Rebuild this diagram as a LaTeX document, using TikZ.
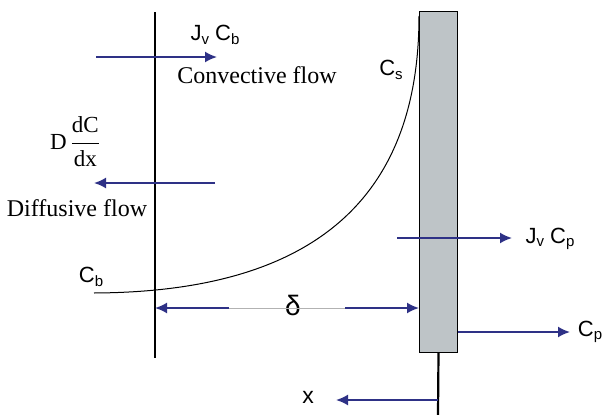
\documentclass[tikz,border=0pt]{standalone}
\usepackage{amsmath}
\usepackage{fontspec}
\setmainfont{Liberation Serif}
\newfontfamily\arialfont{Liberation Sans}
\usetikzlibrary{arrows.meta,positioning}
\definecolor{flowblue}{HTML}{2E3186}
\definecolor{membgray}{HTML}{BEC4C7}
\newcommand{\lo}[1]{\raisebox{-0.3ex}{\fontsize{15}{15}\selectfont #1}}

\begin{document}
\begin{tikzpicture}[x=1pt,y=-1pt,>={Latex[length=12pt,width=11pt]},
  flow/.style={->,flowblue,line width=1.8pt},
  sanslbl/.style={inner sep=0pt,font=\arialfont\fontsize{22}{22}\selectfont},
  seriflbl/.style={inner sep=0pt,font=\fontsize{24}{24}\selectfont},
  wall/.style={line width=2.2pt}]
\useasboundingbox (0,0) rectangle (611,415);

% boundary layer edge and membrane
\coordinate (edgetop) at (155,12);
\coordinate (edgebot) at (155,358);
\draw[wall] (edgetop) -- (edgebot);
\node[draw,fill=membgray,line width=1pt,inner sep=0pt,anchor=north west,
  minimum width=38pt,minimum height=341pt] (memb) at (419,11) {};
\coordinate (base) at (438,415);
\draw[wall] (memb.south) -- (base);

% concentration profile
\coordinate (cbend) at (94,293);
\coordinate (csend) at (419,16);
\draw[line width=1pt] (cbend) .. controls (300,292) and (419,210) .. (csend);
\node[sanslbl] (cb) at (91,277) {C\lo{b}};
\node[sanslbl] (cs) at (391,70) {C\lo{s}};

% convective flow
\coordinate (conv0) at (96,57);
\coordinate (conv1) at (217,57);
\draw[flow] (conv0) -- (conv1);
\node[sanslbl] (jvcb) at (215,35) {J\lo{v} C\lo{b}};
\node[seriflbl] (convlbl) at (257,75) {Convective flow};

% diffusive flow
\coordinate (diff0) at (215,183);
\coordinate (diff1) at (94,183);
\draw[flow] (diff0) -- (diff1);
\node[inner sep=0pt,font=\fontsize{23}{23}\selectfont] (ddx) at (75,142)
  {$\text{D}\,\dfrac{\text{dC}}{\text{dx}}$};
\node[seriflbl] (difflbl) at (77,208) {Diffusive flow};

% boundary layer thickness
\node[inner sep=0pt,font=\arialfont\fontsize{28}{28}\selectfont] (delta) at (293,305) {δ};
\coordinate (dl) at (229,308);
\coordinate (dr) at (345,308);
\draw[black!30,line width=1pt] (dl) -- (dr);
\draw[flow] (dl) -- (dl -| edgetop);
\draw[flow] (dr) -- (dr -| memb.west);

% permeate side
\coordinate (perm0) at (397,238);
\coordinate (perm1) at (512,238);
\draw[flow] (perm0) -- (perm1);
\node[sanslbl] (jvcp) at (550,239) {J\lo{v} C\lo{p}};
\coordinate (cp0) at (memb.east |- 0,332);
\coordinate (cp1) at (570,332);
\draw[flow] (cp0) -- (cp1);
\node[sanslbl] (cp) at (590,332) {C\lo{p}};

% x axis
\coordinate (x0) at (438,400);
\coordinate (x1) at (336,400);
\draw[flow] (x0) -- (x1);
\node[inner sep=0pt,font=\arialfont\fontsize{23}{23}\selectfont] (xlbl) at (308,397) {x};
\end{tikzpicture}
\end{document}
